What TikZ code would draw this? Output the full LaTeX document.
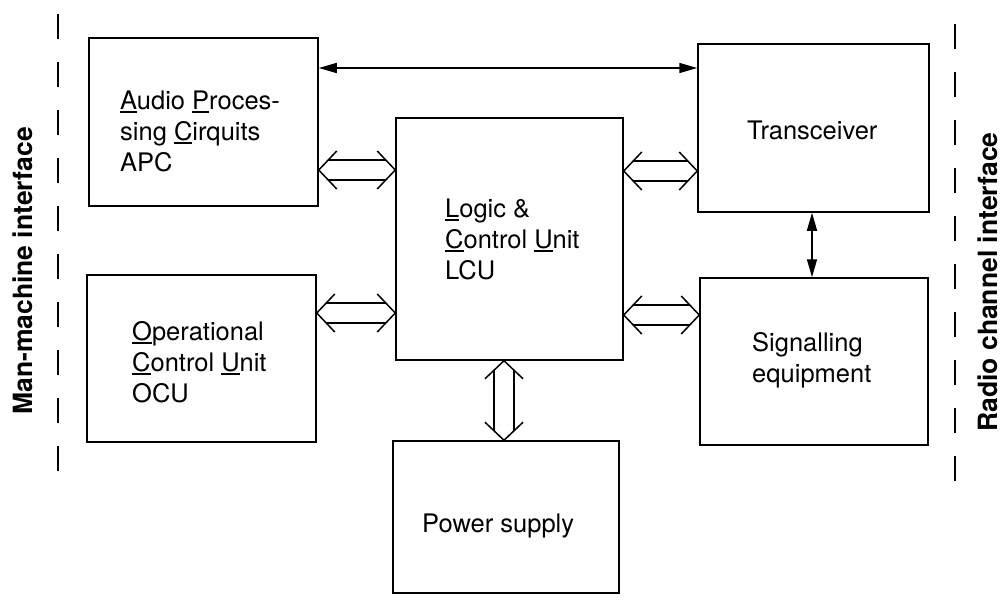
\documentclass[tikz,border=0pt]{standalone}
\usepackage{fontspec}
\setmainfont{TeX Gyre Heros}
\usetikzlibrary{calc,arrows.meta}
\newcommand{\ulc}[1]{\setbox0\hbox{#1}\rlap{\rule[-3.5pt]{\wd0}{1.8pt}}#1}
\newcommand{\dblarr}[2]{%
  \draw[dbl] ($(#1)!18pt!(#2)!19pt!90:(#2)$) -- (#1) -- ($(#1)!18pt!(#2)!19pt!-90:(#2)$);
  \draw[dbl] ($(#2)!18pt!(#1)!19pt!90:(#1)$) -- (#2) -- ($(#2)!18pt!(#1)!19pt!-90:(#1)$);
  \draw[dbl] ($(#1)!9.5pt!(#2)!10pt!90:(#2)$) -- ($(#2)!9.5pt!(#1)!10pt!-90:(#1)$);
  \draw[dbl] ($(#1)!9.5pt!(#2)!10pt!-90:(#2)$) -- ($(#2)!9.5pt!(#1)!10pt!90:(#1)$);
}
\tikzset{
  box/.style={draw, line width=1.5pt, inner sep=0pt},
  txt/.style={font=\fontsize{25.5}{31}\selectfont, align=left, inner sep=0pt, anchor=west},
  lab/.style={font=\fontsize{26.5}{32}\selectfont\bfseries, rotate=90, inner sep=0pt},
  sarr/.style={line width=1.5pt, {Triangle[length=18pt,width=10pt]}-{Triangle[length=18pt,width=10pt]}},
  dbl/.style={line width=1.5pt, line join=miter},
  ifdash/.style={line width=1.8pt, dash pattern=on 25pt off 23pt}
}
\begin{document}
\begin{tikzpicture}[x=1pt,y=-1pt]
\useasboundingbox[fill=white] (0,0) rectangle (1006,607);
% boxes
\node[box, minimum width=229pt, minimum height=168pt] (apc) at (203.5,122) {};
\node[box, minimum width=227pt, minimum height=242pt] (lcu) at (509.5,239) {};
\node[box, minimum width=229pt, minimum height=167pt] (ocu) at (201.5,358.5) {};
\node[box, minimum width=231pt, minimum height=168pt] (trans) at (813.5,128) {};
\node[box, minimum width=228pt, minimum height=167pt] (sig) at (814,361.5) {};
\node[box, minimum width=226pt, minimum height=152pt] (power) at (506,517) {};
% texts
\node[txt] (apct) at (120,131.5) {\ulc{A}udio \ulc{P}roces-\\sing \ulc{C}irquits\\APC};
\node[txt] (lcut) at (445,239) {\ulc{L}ogic \&\\\ulc{C}ontrol \ulc{U}nit\\LCU};
\node[txt] (ocut) at (132,362) {\ulc{O}perational\\\ulc{C}ontrol \ulc{U}nit\\OCU};
\node[txt] (transt) at (747,130.5) {Transceiver};
\node[txt] (sigt) at (752,360.7) {Signalling\\equipment};
\node[txt] (powert) at (422,526) {Power supply};
% single arrows
\draw[sarr] (apc.east |- 0,68) -- (trans.west |- 0,68);
\draw[sarr] (trans.south -| 812,0) -- (sig.north -| 812,0);
% double arrows
\dblarr{apc.east |- 0,170}{lcu.west |- 0,170}
\dblarr{lcu.east |- 0,171}{trans.west |- 0,171}
\dblarr{ocu.east |- 0,313}{lcu.west |- 0,313}
\dblarr{lcu.east |- 0,315}{sig.west |- 0,315}
\dblarr{lcu.south -| 504,0}{power.north -| 504,0}
% interfaces
\draw[ifdash] (58,14) -- (58,472);
\draw[ifdash] (955,24) -- (955,482);
\node[lab] (mmi) at (23,271) {Man-machine interface};
\node[lab] (rci) at (988,282) {Radio channel interface};
\end{tikzpicture}
\end{document}
